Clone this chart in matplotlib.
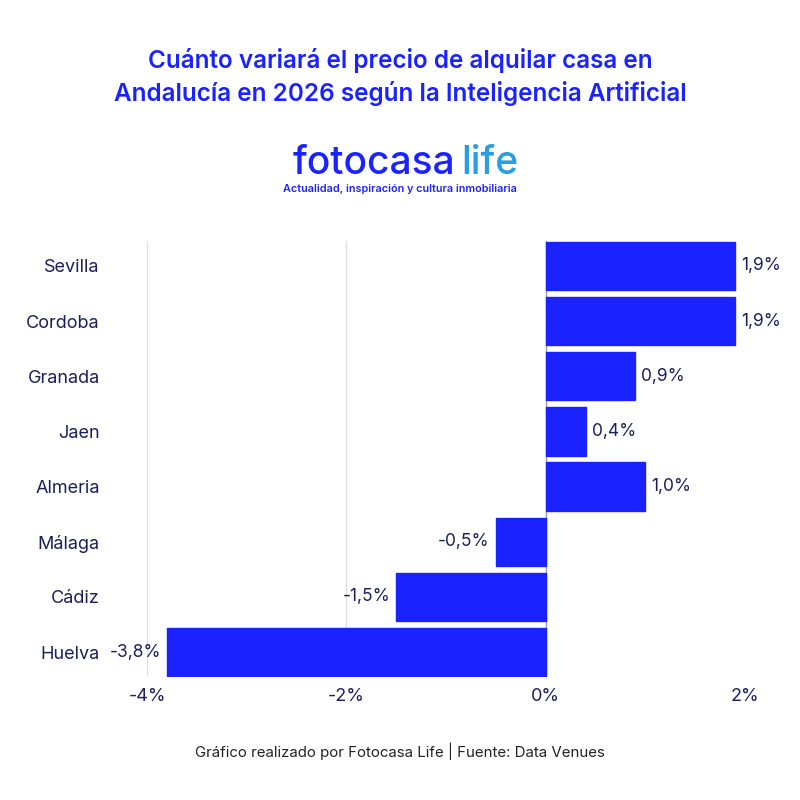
import matplotlib
matplotlib.use("Agg")
import matplotlib.pyplot as plt

# data
provinces = ['Sevilla', 'Cordoba', 'Granada', 'Jaen', 'Almeria', 'Málaga', 'Cádiz', 'Huelva']
changes = [1.9, 1.9, 0.9, 0.4, 1.0, -0.5, -1.5, -3.8]
xticks = [-4, -2, 0, 2]

blue = '#1a22ff'
navy = '#1c1f5c'

plt.rcParams['font.family'] = ['Inter', 'DejaVu Sans']

fig = plt.figure(figsize=(8, 8), dpi=100)
fig.patch.set_facecolor('white')
ax = fig.add_axes([147 / 800, 1 - 677 / 800, (745 - 147) / 800, (677 - 241) / 800])

ypos = list(range(len(provinces)))
h = 0.9
ax.barh(ypos, changes, height=h - 0.02, color=blue, edgecolor=blue, linewidth=1,
        joinstyle='round', zorder=3)
ax.set_ylim(len(provinces) - 1 + h / 2, -h / 2)
ax.set_xlim(-4, 2)

for x in xticks:
    if x == 0:
        ax.axvline(x, color='#9a9aa8', lw=1, zorder=2)
    elif x < 2:
        ax.axvline(x, color='#e0e0e4', lw=1, zorder=1)

for y, v in zip(ypos, changes):
    label = f'{v:.1f}%'.replace('.', ',')
    if v >= 0:
        ax.text(v + 0.06, y, label, ha='left', va='center', color=navy, fontsize=12.5)
    else:
        ax.text(v - 0.06, y, label, ha='right', va='center', color=navy, fontsize=12.5)

ax.set_yticks(ypos)
ax.set_yticklabels(provinces, color=navy, fontsize=13)
ax.set_xticks(xticks)
ax.set_xticklabels([f'{x}%' for x in xticks], color=navy, fontsize=13)
ax.tick_params(length=0)
ax.tick_params(axis='y', pad=34)
ax.tick_params(axis='x', pad=8)
for s in ax.spines.values():
    s.set_visible(False)

fig.text(0.5, 1 - 77 / 800, 'Cuánto variará el precio de alquilar casa en\nAndalucía en 2026 según la Inteligencia Artificial',
         ha='center', va='center', color=blue, fontsize=17.5, fontweight='semibold', linespacing=1.4)

fig.text(455 / 800, 1 - 163 / 800, 'fotocasa', ha='right', va='center', color=blue, fontsize=28, fontweight='medium')
fig.text(461 / 800, 1 - 163 / 800, 'life', ha='left', va='center', color='#2a9ee0', fontsize=28, fontweight='medium')
fig.text(0.5, 1 - 189 / 800, 'Actualidad, inspiración y cultura inmobiliaria', ha='center', va='center',
         color=blue, fontsize=7.8, fontweight='semibold')

fig.text(0.5, 1 - 751 / 800, 'Gráfico realizado por Fotocasa Life | Fuente: Data Venues', ha='center', va='center',
         color='#222222', fontsize=10.8)

fig.savefig('out.png', dpi=100, facecolor='white')
